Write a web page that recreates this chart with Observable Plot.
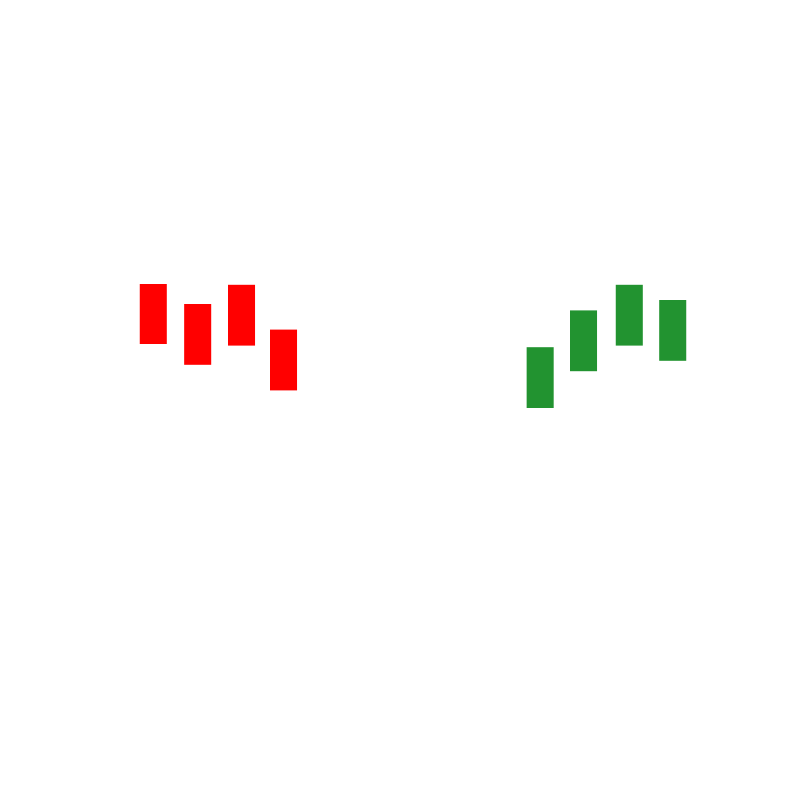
<!DOCTYPE html>
<html>
<head>
<meta charset="utf-8">
<script src="https://cdn.jsdelivr.net/npm/d3@7"></script>
<script src="https://cdn.jsdelivr.net/npm/@observablehq/plot@0.6"></script>
<style>
  html, body { margin: 0; padding: 0; background: #fff; }
</style>
</head>
<body>
<div id="chart"></div>
<script>
// Down group (red)
const redX     = [19.16, 24.71, 30.19, 35.44];
const redHigh  = [64.5, 62.0, 64.4, 58.8];
const redLow   = [57.0, 54.4, 56.8, 51.2];
// Up group (green)
const greenX    = [67.52, 72.94, 78.66, 84.09];
const greenHigh = [56.6, 61.2, 64.4, 62.5];
const greenLow  = [49.0, 53.6, 56.8, 54.9];

const halfW = 1.69; // half bar width in x units

const rows = [
  ...redX.map((x, i) => ({x, hi: redHigh[i], lo: redLow[i], group: "down"})),
  ...greenX.map((x, i) => ({x, hi: greenHigh[i], lo: greenLow[i], group: "up"}))
];

const chart = Plot.plot({
  width: 800,
  height: 800,
  margin: 0,
  x: {domain: [0, 100], axis: null},
  y: {domain: [0, 100], axis: null},
  color: {domain: ["down", "up"], range: ["#ff0000", "#229330"]},
  marks: [
    Plot.rect(rows, {
      x1: d => d.x - halfW,
      x2: d => d.x + halfW,
      y1: "lo",
      y2: "hi",
      fill: "group"
    })
  ]
});
document.getElementById("chart").appendChild(chart);
</script>
</body>
</html>
